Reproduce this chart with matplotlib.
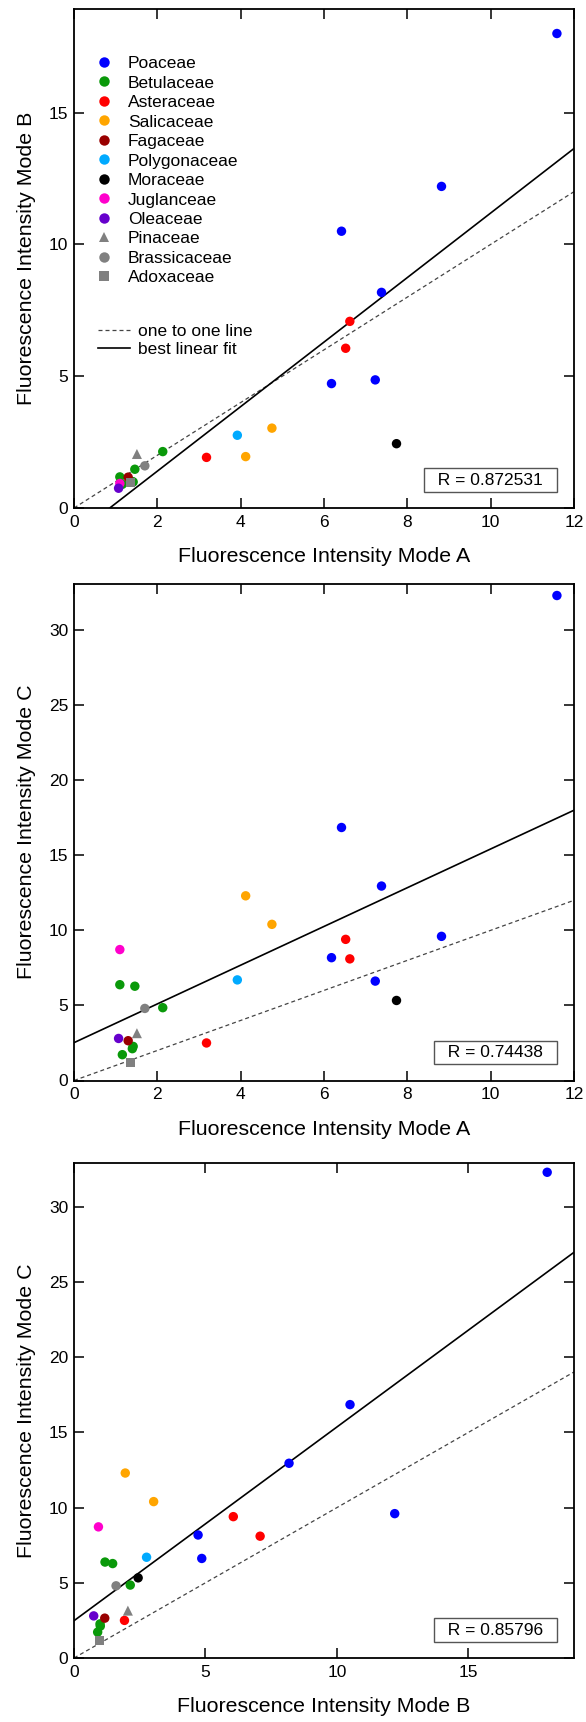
import matplotlib
matplotlib.use('Agg')
import matplotlib.pyplot as plt
import numpy as np
from matplotlib.lines import Line2D

plt.rcParams['font.family'] = ['Liberation Sans', 'DejaVu Sans']

# ---------------- data ----------------
families = ['Poaceae', 'Betulaceae', 'Asteraceae', 'Salicaceae', 'Fagaceae',
            'Polygonaceae', 'Moraceae', 'Juglanceae', 'Oleaceae', 'Pinaceae',
            'Brassicaceae', 'Adoxaceae']
family_colors = ['#0000FF', '#0A990A', '#FF0000', '#FFA500', '#990000',
                 '#00AAFF', '#000000', '#FF00CC', '#6600CC', '#808080',
                 '#808080', '#808080']
family_markers = ['o', 'o', 'o', 'o', 'o', 'o', 'o', 'o', 'o', '^', 'o', 's']

sample_family = ['Poaceae'] * 6 + ['Betulaceae'] * 6 + ['Asteraceae'] * 3 + \
    ['Salicaceae'] * 2 + ['Fagaceae', 'Polygonaceae', 'Moraceae', 'Juglanceae',
                          'Oleaceae', 'Pinaceae', 'Brassicaceae', 'Adoxaceae']
mode_a = [11.59, 8.82, 6.42, 7.38, 6.18, 7.23,
          1.10, 1.46, 2.13, 1.42, 1.40, 1.16,
          6.52, 6.62, 3.18,
          4.12, 4.75,
          1.30, 3.92, 7.74, 1.10, 1.07, 1.51, 1.70, 1.36]
mode_b = [18.0, 12.2, 10.5, 8.18, 4.72, 4.86,
          1.18, 1.47, 2.14, 0.99, 1.00, 0.90,
          6.06, 7.08, 1.92,
          1.95, 3.03,
          1.17, 2.76, 2.44, 0.93, 0.75, 2.05, 1.60, 0.97]
mode_c = [32.3, 9.6, 16.85, 12.95, 8.18, 6.62,
          6.38, 6.28, 4.85, 2.27, 2.12, 1.72,
          9.40, 8.10, 2.50,
          12.30, 10.40,
          2.65, 6.70, 5.33, 8.72, 2.80, 3.15, 4.80, 1.18]

# best linear fit lines (slope, intercept)
fit_ab = (1.224, -1.05)
fit_ac = (1.29, 2.52)
fit_bc = (1.288, 2.48)
r_values = ['0.872531', '0.74438', '0.85796']

# ---------------- figure ----------------
W, H = 586, 1722
fig = plt.figure(figsize=(W / 100, H / 100), dpi=100)

def px_axes(x0, y0, x1, y1):
    return fig.add_axes([x0 / W, 1 - y1 / H, (x1 - x0) / W, (y1 - y0) / H])

ax1 = px_axes(74, 9, 574, 508)
ax2 = px_axes(74, 583.5, 574, 1080.5)
ax3 = px_axes(74, 1162.5, 574, 1658)

fam_idx = {f: i for i, f in enumerate(families)}
mode_vals = {'A': np.array(mode_a), 'B': np.array(mode_b), 'C': np.array(mode_c)}
sample_family_arr = np.array(sample_family)

panels = [
    (ax1, 'A', 'B', (0, 12), (0, 18.93), [0, 2, 4, 6, 8, 10, 12], [0, 5, 10, 15], fit_ab, r_values[0]),
    (ax2, 'A', 'C', (0, 12), (0, 33.1), [0, 2, 4, 6, 8, 10, 12], [0, 5, 10, 15, 20, 25, 30], fit_ac, r_values[1]),
    (ax3, 'B', 'C', (0, 19.02), (0, 32.95), [0, 5, 10, 15], [0, 5, 10, 15, 20, 25, 30], fit_bc, r_values[2]),
]

DASH = (0, (3.2, 2.4))

for ax, xk, yk, xl, yl, xt, yt, fit, r in panels:
    xv = mode_vals[xk]
    yv = mode_vals[yk]
    xx = np.array([0, xl[1]])
    ax.plot(xx, xx, linestyle=DASH, color='#444444', lw=0.9, zorder=2)
    ax.plot(xx, fit[0] * xx + fit[1], color='black', lw=1.2, zorder=2)
    for f in families:
        m = sample_family_arr == f
        i = fam_idx[f]
        mk = family_markers[i]
        s = 52 if mk == '^' else (44 if mk == 's' else 46)
        ax.scatter(xv[m], yv[m], s=s, c=family_colors[i], marker=mk,
                   edgecolors='none', zorder=3)
    ax.set_xlim(*xl)
    ax.set_ylim(*yl)
    ax.set_xticks(xt)
    ax.set_yticks(yt)
    ax.tick_params(direction='in', top=True, right=True, length=7.5, width=1.1,
                   labelsize=12.5, colors='black')
    ax.tick_params(axis='x', pad=5)
    ax.tick_params(axis='y', pad=4)
    for sp in ax.spines.values():
        sp.set_linewidth(1.3)
    ax.set_xlabel('Fluorescence Intensity Mode ' + xk, fontsize=15.4, labelpad=12.5)
    ax.set_ylabel('Fluorescence Intensity Mode ' + yk, fontsize=15.4, labelpad=9)
    ax.text(0.958, 0.041, '  R = ' + r + '  ', transform=ax.transAxes,
            ha='right', va='bottom', fontsize=12.5,
            bbox=dict(boxstyle='square,pad=0.25', fc='white', ec='#555555', lw=1.0),
            zorder=5)

# legends on the first panel
fam_handles = [Line2D([], [], marker=family_markers[i], color=family_colors[i],
                      linestyle='none', markersize=7.5 if family_markers[i] != 's' else 7,
                      markeredgewidth=0)
               for i in range(len(families))]
leg1 = ax1.legend(fam_handles, families, loc='upper left', bbox_to_anchor=(0.0425, 0.906),
                  frameon=False, fontsize=12.5, handlelength=1.0, handletextpad=0.87,
                  labelspacing=0.25, borderpad=0, borderaxespad=0)
ax1.add_artist(leg1)
line_handles = [Line2D([], [], linestyle=DASH, color='#444444', lw=0.9),
                Line2D([], [], color='black', lw=1.2)]
ax1.legend(line_handles, ['one to one line', 'best linear fit'], loc='upper left',
           bbox_to_anchor=(0.047, 0.369), frameon=False, fontsize=12.5,
           handlelength=1.85, handletextpad=0.46, labelspacing=0.15,
           borderpad=0, borderaxespad=0)

fig.savefig('out.png', dpi=100)
